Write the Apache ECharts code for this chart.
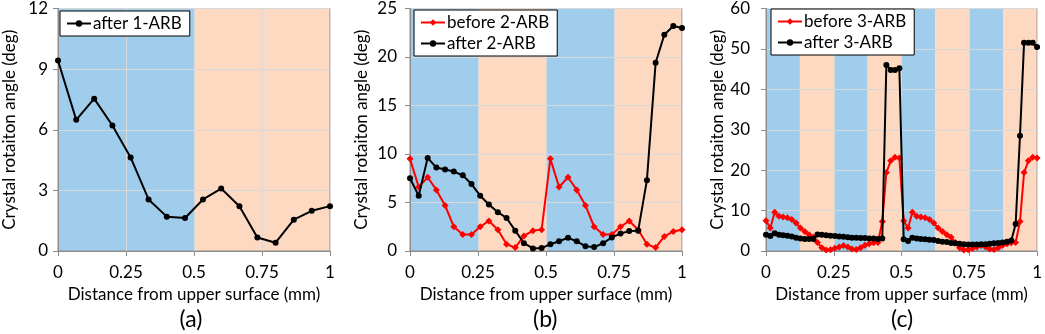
<!DOCTYPE html>
<html>
<head>
<meta charset="utf-8">
<script src="https://cdn.jsdelivr.net/npm/echarts@6/dist/echarts.min.js"></script>
<style>
  html, body { margin: 0; padding: 0; background: #fff; }
  #chart { width: 1045px; height: 334px; }
</style>
</head>
<body>
<div id="chart"></div>
<script>
// distance from upper surface (mm)
const xA = [0, 0.067, 0.133, 0.2, 0.267, 0.333, 0.4, 0.467, 0.533, 0.6, 0.667, 0.733, 0.8, 0.867, 0.933, 1]
const xB = [0, 0.032, 0.065, 0.097, 0.129, 0.161, 0.194, 0.226, 0.258, 0.290, 0.323, 0.355, 0.387, 0.419, 0.452, 0.484,
  0.516, 0.548, 0.581, 0.613, 0.645, 0.677, 0.710, 0.742, 0.774, 0.806, 0.839, 0.871, 0.903, 0.935, 0.968, 1]
const xC = [0, 0.016, 0.032, 0.048, 0.063, 0.079, 0.095, 0.111, 0.127, 0.143, 0.159, 0.175, 0.190, 0.206, 0.222, 0.238,
  0.254, 0.270, 0.286, 0.302, 0.317, 0.333, 0.349, 0.365, 0.381, 0.397, 0.413, 0.429, 0.444, 0.460, 0.476, 0.492,
  0.508, 0.524, 0.540, 0.556, 0.571, 0.587, 0.603, 0.619, 0.635, 0.651, 0.667, 0.683, 0.698, 0.714, 0.730, 0.746,
  0.762, 0.778, 0.794, 0.810, 0.825, 0.841, 0.857, 0.873, 0.889, 0.905, 0.921, 0.937, 0.952, 0.968, 0.984, 1]

// crystal rotation angle (deg)
const after1 = [9.43, 6.49, 7.54, 6.21, 4.63, 2.55, 1.70, 1.63, 2.55, 3.09, 2.21, 0.67, 0.41, 1.55, 1.99, 2.22]
const before2 = [9.5, 6.6, 7.6, 6.3, 4.7, 2.5, 1.7, 1.7, 2.5, 3.1, 2.2, 0.7, 0.35, 1.55, 2.1, 2.2,
  9.5, 6.6, 7.6, 6.3, 4.7, 2.5, 1.7, 1.7, 2.5, 3.1, 2.2, 0.7, 0.35, 1.5, 2.0, 2.2]
const after2 = [7.5, 5.7, 9.6, 8.6, 8.4, 8.2, 7.8, 6.9, 5.7, 4.8, 4.0, 3.4, 2.1, 0.8, 0.27, 0.3,
  0.7, 1.0, 1.37, 1.0, 0.5, 0.4, 0.8, 1.4, 1.8, 2.05, 2.1, 7.3, 19.4, 22.3, 23.2, 23.0]
const before3 = [7.5, 5.7, 9.6, 8.6, 8.4, 8.2, 7.8, 6.9, 5.7, 4.8, 4.0, 3.4, 2.1, 0.8, 0.27, 0.3,
  0.7, 1.0, 1.37, 1.0, 0.5, 0.4, 0.8, 1.4, 1.8, 2.05, 2.1, 7.3, 19.4, 22.3, 23.2, 23.0,
  7.5, 5.7, 9.6, 8.6, 8.4, 8.2, 7.8, 6.9, 5.7, 4.8, 4.0, 3.4, 2.1, 0.8, 0.27, 0.3,
  0.7, 1.0, 1.37, 1.0, 0.5, 0.4, 0.8, 1.4, 1.8, 2.05, 2.1, 7.3, 19.4, 22.3, 23.2, 23.0]
const after3 = [4.0, 3.7, 4.4, 4.0, 3.9, 3.8, 3.6, 3.3, 3.1, 3.0, 3.0, 3.0, 4.1, 4.0, 3.9, 3.8,
  3.7, 3.6, 3.5, 3.4, 3.3, 3.3, 3.2, 3.2, 3.1, 3.1, 3.0, 3.1, 46.0, 44.8, 44.8, 45.2,
  2.9, 2.5, 3.3, 3.1, 3.0, 2.9, 2.8, 2.7, 2.5, 2.3, 2.2, 2.0, 1.9, 1.8, 1.7, 1.6,
  1.6, 1.6, 1.7, 1.7, 1.8, 1.9, 2.0, 2.1, 2.3, 2.6, 6.7, 28.5, 51.5, 51.5, 51.5, 50.5]

// layer bands (start, end) in mm, alternating blue / peach
const bandsA = [[0, 0.5], [0.5, 1]]
const bandsB = [[0, 0.25], [0.25, 0.5], [0.5, 0.75], [0.75, 1]]
const bandsC = [[0, 0.125], [0.125, 0.25], [0.25, 0.375], [0.375, 0.5], [0.5, 0.625], [0.625, 0.75], [0.75, 0.875], [0.875, 1]]

const yMax = [12, 25, 60]
const yStep = [3, 5, 10]
const panelLabels = ['(a)', '(b)', '(c)']

const font = 'Lato'
const fs = 17
const bandColors = ['#9fcdeb', '#fdd9c1']
const grids = [
  { left: 55, top: 6, width: 275, height: 245 },
  { left: 410, top: 6, width: 272, height: 245 },
  { left: 766, top: 6, width: 276, height: 245 },
]
const yLabelMargin = [10, 13, 16]

const pair = (xs, ys) => xs.map((x, i) => [x, ys[i]])

function bandSeries(bands, idx) {
  return {
    type: 'custom',
    xAxisIndex: idx,
    yAxisIndex: idx,
    silent: true,
    z: -1,
    data: bands,
    encode: { x: [0, 1] },
    renderItem(params, api) {
      const s = api.coord([api.value(0), 0])
      const e = api.coord([api.value(1), 0])
      const cs = params.coordSys
      return {
        type: 'rect',
        shape: { x: s[0], y: cs.y, width: e[0] - s[0], height: cs.height },
        style: { fill: bandColors[params.dataIndex % 2] },
      }
    },
  }
}

function lineSeries(name, data, idx, red) {
  return {
    name,
    type: 'line',
    xAxisIndex: idx,
    yAxisIndex: idx,
    data,
    symbol: red ? 'diamond' : 'circle',
    symbolSize: red ? 7 : 6,
    showSymbol: true,
    lineStyle: { color: red ? '#ff0000' : '#000', width: 2 },
    itemStyle: { color: red ? '#ff0000' : '#000' },
    z: red ? 2 : 3,
  }
}

const chart = echarts.init(document.getElementById('chart'))
chart.setOption({
  animation: false,
  backgroundColor: '#fff',
  textStyle: { fontFamily: font },
  grid: grids.map(g => ({ ...g, show: true, borderColor: '#8c8c8c', borderWidth: 1, backgroundColor: 'transparent' })),
  xAxis: grids.map((g, i) => ({
    type: 'value',
    gridIndex: i,
    min: 0,
    max: 1,
    interval: 0.25,
    name: 'Distance from upper surface (mm)',
    nameLocation: 'middle',
    nameGap: 35,
    nameTextStyle: { fontSize: fs, color: '#000', fontFamily: font },
    axisLine: { lineStyle: { color: '#8c8c8c' } },
    axisTick: { show: true, length: 5, lineStyle: { color: '#8c8c8c' } },
    axisLabel: { fontSize: fs, color: '#000', margin: 13, formatter: v => String(v) },
    splitLine: { show: true, lineStyle: { color: '#d9d9d9' } },
  })),
  yAxis: grids.map((g, i) => ({
    type: 'value',
    gridIndex: i,
    min: 0,
    max: yMax[i],
    interval: yStep[i],
    name: 'Crystal rotaiton angle (deg)',
    nameLocation: 'middle',
    nameGap: 40,
    nameTextStyle: { fontSize: fs, color: '#000', fontFamily: font },
    axisLine: { show: true, lineStyle: { color: '#8c8c8c' } },
    axisTick: { show: true, length: 5, lineStyle: { color: '#8c8c8c' } },
    axisLabel: { fontSize: fs, color: '#000', margin: yLabelMargin[i] },
    splitLine: { show: true, lineStyle: { color: '#d9d9d9' } },
  })),
  legend: [
    { data: ['after 1-ARB'], left: 60, top: 11 },
    { data: ['before 2-ARB', 'after 2-ARB'], left: 414, top: 10 },
    { data: ['before 3-ARB', 'after 3-ARB'], left: 771, top: 9 },
  ].map(l => ({
    ...l,
    orient: 'vertical',
    backgroundColor: '#fff',
    borderColor: '#000',
    borderWidth: 1,
    borderRadius: 0,
    padding: [4, 8, 4, 6],
    itemGap: 4,
    itemWidth: 24,
    itemHeight: 8,
    textStyle: { fontSize: fs, color: '#000', fontFamily: font, padding: [0, 0, 0, -3] },
  })),
  graphic: panelLabels.map((t, i) => ({
    type: 'text',
    left: grids[i].left + grids[i].width / 2 - 13,
    top: 308,
    style: { text: t, fontSize: 23, fontFamily: font, fill: '#000' },
  })),
  series: [
    bandSeries(bandsA, 0),
    bandSeries(bandsB, 1),
    bandSeries(bandsC, 2),
    lineSeries('after 1-ARB', pair(xA, after1), 0, false),
    lineSeries('before 2-ARB', pair(xB, before2), 1, true),
    lineSeries('after 2-ARB', pair(xB, after2), 1, false),
    lineSeries('before 3-ARB', pair(xC, before3), 2, true),
    lineSeries('after 3-ARB', pair(xC, after3), 2, false),
  ],
})
</script>
</body>
</html>
